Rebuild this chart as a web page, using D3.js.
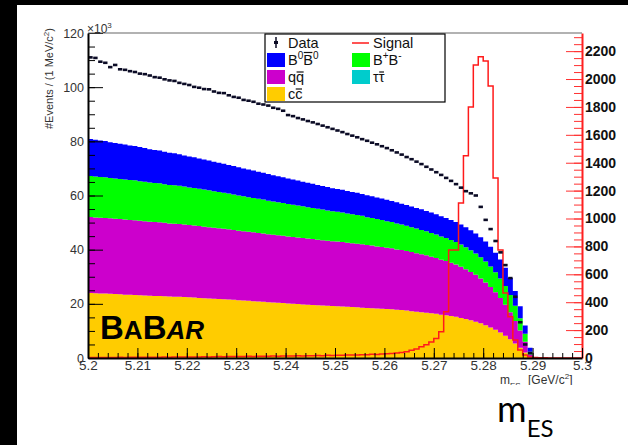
<!DOCTYPE html>
<html>
<head>
<meta charset="utf-8">
<script src="https://cdn.jsdelivr.net/npm/d3@7"></script>
<style>
body { margin: 0; background: #000; }
text { font-family: "Liberation Sans", Arial, sans-serif; }
</style>
</head>
<body>
<div id="chart"></div>
<script>
// page size
var svgWidth = 628;
var svgHeight = 445;

// plot frame (pixel box of the ROOT pad)
var frame = { left: 88, right: 582, top: 33, bottom: 358 };

// histogram binning: 1 MeV bins starting at 5.2 GeV
var xStart = 5.2;
var binWidth = 0.001;

// background components, events per bin (x1000), bins 5.200 ... 5.289
var ccbar = [
  24.0,23.9,23.8,23.8,23.7,23.6,23.5,23.4,23.4,23.3,
  23.2,23.1,23.0,22.9,22.9,22.8,22.7,22.6,22.6,22.5,
  22.4,22.3,22.2,22.1,22.0,21.9,21.8,21.7,21.6,21.5,
  21.3,21.2,21.1,21.0,20.9,20.8,20.6,20.5,20.4,20.3,
  20.1,20.0,19.9,19.8,19.7,19.6,19.5,19.4,19.3,19.2,
  19.1,19.0,18.9,18.8,18.7,18.6,18.5,18.4,18.3,18.2,
  18.1,18.0,17.8,17.7,17.5,17.3,17.1,16.9,16.7,16.5,
  16.3,16.0,15.8,15.5,15.2,14.8,14.4,13.9,13.4,12.8,
  12.1,11.3,10.4,9.4,8.2,6.9,5.4,3.8,2.0,0.5
];
var qqbar = [
  28.1,28.0,28.0,27.9,27.9,27.8,27.8,27.7,27.6,27.6,
  27.5,27.4,27.3,27.3,27.2,27.1,27.0,27.0,26.9,26.8,
  26.7,26.6,26.5,26.4,26.3,26.2,26.1,26.0,25.9,25.8,
  25.7,25.6,25.5,25.4,25.3,25.2,25.1,25.0,24.9,24.8,
  24.8,24.7,24.6,24.5,24.4,24.3,24.2,24.1,24.0,23.9,
  23.9,23.8,23.7,23.6,23.5,23.4,23.2,23.1,22.9,22.8,
  22.6,22.5,22.3,22.2,22.0,21.8,21.6,21.4,21.2,20.9,
  20.6,20.3,20.0,19.7,19.3,18.9,18.4,17.9,17.3,16.6,
  15.8,14.9,13.9,12.8,11.5,10.0,8.3,6.4,4.0,0.8
];
var bpbm = [
  15.1,15.1,15.0,15.0,14.9,14.9,14.8,14.8,14.7,14.7,
  14.6,14.6,14.5,14.4,14.4,14.3,14.2,14.2,14.1,14.0,
  13.9,13.9,13.8,13.7,13.6,13.5,13.4,13.3,13.2,13.1,
  13.0,12.9,12.8,12.7,12.6,12.5,12.4,12.3,12.2,12.1,
  12.0,11.9,11.8,11.7,11.6,11.5,11.4,11.3,11.2,11.1,
  11.0,10.9,10.8,10.7,10.6,10.5,10.3,10.2,10.1,10.0,
  9.8,9.7,9.6,9.4,9.3,9.2,9.1,9.0,8.9,8.8,
  8.7,8.6,8.5,8.4,8.3,8.2,8.1,8.0,7.9,7.8,
  7.7,7.6,7.4,7.2,6.9,6.4,5.6,4.5,3.0,1.0
];
var b0b0bar = [
  13.7,13.6,13.5,13.4,13.2,13.1,13.0,12.9,12.8,12.7,
  12.6,12.4,12.3,12.2,12.1,12.0,11.9,11.8,11.6,11.5,
  11.4,11.3,11.2,11.1,11.0,10.9,10.8,10.7,10.6,10.5,
  10.4,10.3,10.2,10.1,10.0,9.9,9.8,9.7,9.6,9.5,
  9.4,9.3,9.2,9.1,9.0,8.9,8.8,8.7,8.6,8.5,
  8.4,8.4,8.3,8.2,8.2,8.1,8.1,8.0,8.0,7.9,
  7.9,7.8,7.8,7.7,7.7,7.6,7.6,7.6,7.5,7.5,
  7.5,7.4,7.4,7.4,7.4,7.4,7.4,7.4,7.4,7.4,
  7.4,7.3,7.2,7.0,6.7,6.2,5.4,4.4,3.0,1.5
];

// data, events per bin (x1000)
var dataCounts = [
  111.0,110.8,109.4,109.0,107.4,108.2,106.6,106.4,105.9,105.6,
  105.0,104.8,104.3,103.7,103.5,102.9,102.5,102.3,101.6,101.2,
  100.8,100.1,99.8,99.3,99.2,98.4,97.9,97.8,97.0,96.4,
  96.1,95.3,95.0,94.6,93.9,93.6,93.2,92.4,92.0,91.3,
  89.7,89.3,88.6,88.1,87.5,87.0,86.4,85.8,85.2,84.6,
  84.0,83.4,82.7,82.1,81.5,80.8,80.2,79.5,78.9,78.2,
  77.5,76.7,75.9,75.1,74.2,73.4,72.5,71.6,70.6,69.6,
  68.6,67.6,66.5,65.4,64.2,62.9,61.6,60.8,60.0,55.8,
  51.0,47.6,43.2,39.0,34.3,29.5,22.6,13.2,5.0,1.8
];

// signal MC, events per bin (right axis), bins 5.200 ... 5.299
var signal = [
  3,3,4,3,4,4,5,4,5,5,
  5,6,5,6,6,7,6,7,7,8,
  8,7,8,9,8,9,10,9,10,11,
  10,11,12,11,12,13,12,14,13,14,
  15,14,16,15,17,16,18,17,19,18,
  20,19,21,22,21,23,24,26,25,28,
  30,32,35,40,45,55,65,80,95,115,
  140,188,332,774,774,1111,1450,1800,2100,2160,
  2130,1950,1290,774,466,296,129,57,21,8,
  4,2,1,0,0,0,0,0,0,0
];

var leftTicks = [0, 20, 40, 60, 80, 100, 120];
var rightTicks = [0, 200, 400, 600, 800, 1000, 1200, 1400, 1600, 1800, 2000, 2200];
var xTicks = [5.2, 5.21, 5.22, 5.23, 5.24, 5.25, 5.26, 5.27, 5.28, 5.29, 5.3];

var svg = d3.select("#chart")
  .append("svg")
  .attr("width", svgWidth)
  .attr("height", svgHeight)
  .style("display", "block");

// black border strips of the slide, white page
svg.append("rect").attr("width", svgWidth).attr("height", svgHeight).attr("fill", "#000");
svg.append("rect").attr("x", 17).attr("y", 5).attr("width", svgWidth - 17).attr("height", svgHeight - 5).attr("fill", "#fff");

// scales
var x = d3.scaleLinear().domain([5.2, 5.3]).range([frame.left, frame.right]);
var yLeft = d3.scaleLinear().domain([0, 120]).range([frame.bottom, frame.top]);
var yRight = d3.scaleLinear().domain([0, 2330]).range([frame.bottom, frame.top]);

svg.append("clipPath").attr("id", "plotclip")
  .append("rect")
  .attr("x", frame.left).attr("y", frame.top)
  .attr("width", frame.right - frame.left).attr("height", frame.bottom - frame.top);

// stacked background
var rows = ccbar.map(function(d, i) {
  return { lo: xStart + i * binWidth, cc: ccbar[i], qq: qqbar[i], bpbm: bpbm[i], b0b0: b0b0bar[i] };
});
rows.push({ lo: xStart + ccbar.length * binWidth, cc: 0, qq: 0, bpbm: 0, b0b0: 0 });

var keys = ["cc", "qq", "bpbm", "b0b0"];
var colors = { cc: "#ffcc00", qq: "#cc00cc", bpbm: "#00ff00", b0b0: "#0000ff" };
var stacked = d3.stack().keys(keys)(rows);

var area = d3.area()
  .curve(d3.curveStepAfter)
  .x(function(d) { return x(d.data.lo); })
  .y0(function(d) { return yLeft(d[0]); })
  .y1(function(d) { return yLeft(d[1]); });

svg.append("g").attr("clip-path", "url(#plotclip)")
  .selectAll("path")
  .data(stacked)
  .enter()
  .append("path")
  .attr("d", area)
  .attr("fill", function(d) { return colors[d.key]; });

// signal histogram outline
var sigRows = signal.map(function(v, i) { return { lo: xStart + i * binWidth, v: v }; });
sigRows.push({ lo: 5.3, v: signal[signal.length - 1] });

var sigLine = d3.line()
  .curve(d3.curveStepAfter)
  .x(function(d) { return x(d.lo); })
  .y(function(d) { return yRight(d.v); });

svg.append("path")
  .datum(sigRows)
  .attr("clip-path", "url(#plotclip)")
  .attr("d", sigLine)
  .attr("fill", "none")
  .attr("stroke", "#ff1a1a")
  .attr("stroke-width", 1.5);

// data markers
svg.append("g")
  .selectAll("rect")
  .data(dataCounts)
  .enter()
  .append("rect")
  .attr("x", function(d, i) { return x(xStart + (i + 0.5) * binWidth) - 2.2; })
  .attr("y", function(d) { return yLeft(d) - 1.3; })
  .attr("width", 4.4)
  .attr("height", 2.6)
  .attr("fill", "#0b0b25");

// axes
var minorLeft = d3.range(0, 121, 5);
var minorRight = d3.range(0, 2330, 50);
var minorX = d3.range(0, 51).map(function(i) { return 5.2 + i * 0.002; });

var gLeftMinor = svg.append("g")
  .attr("transform", "translate(" + frame.left + ",0)")
  .call(d3.axisLeft(yLeft).tickValues(minorLeft).tickSizeInner(-7).tickSizeOuter(0).tickFormat(""));
var gLeft = svg.append("g")
  .attr("transform", "translate(" + frame.left + ",0)")
  .call(d3.axisLeft(yLeft).tickValues(leftTicks).tickSizeInner(-15).tickSizeOuter(0).tickPadding(4));
gLeft.selectAll("text").attr("font-size", "12.5px").attr("fill", "#333").attr("font-family", null);

var gRightMinor = svg.append("g")
  .attr("transform", "translate(" + frame.right + ",0)")
  .call(d3.axisRight(yRight).tickValues(minorRight).tickSizeInner(-8).tickSizeOuter(0).tickFormat(""));
var gRight = svg.append("g")
  .attr("transform", "translate(" + frame.right + ",0)")
  .call(d3.axisRight(yRight).tickValues(rightTicks).tickSizeInner(-16).tickSizeOuter(0).tickPadding(3)
    .tickFormat(d3.format("d")));
gRight.selectAll("text").attr("font-size", "14px").attr("font-weight", "bold").attr("fill", "#111").attr("font-family", null);
gRightMinor.selectAll("line").attr("stroke", "#ff3030");
gRight.selectAll("line").attr("stroke", "#ff3030");
gRightMinor.select(".domain").remove();
gRight.select(".domain").attr("stroke", "#ff2020").attr("stroke-width", 2);

var gXMinor = svg.append("g")
  .attr("transform", "translate(0," + frame.bottom + ")")
  .call(d3.axisBottom(x).tickValues(minorX).tickSizeInner(-5).tickSizeOuter(0).tickFormat(""));
var gX = svg.append("g")
  .attr("transform", "translate(0," + frame.bottom + ")")
  .call(d3.axisBottom(x).tickValues(xTicks).tickSizeInner(-10).tickSizeOuter(0).tickPadding(2)
    .tickFormat(function(d) { return String(+d.toFixed(2)); }));
gX.selectAll("text").attr("font-size", "13.5px").attr("fill", "#333").attr("font-family", null);
gX.select(".domain").attr("stroke-width", 2);
gLeft.select(".domain").attr("stroke-width", 2);
gLeftMinor.select(".domain").remove();
gXMinor.select(".domain").remove();

// top frame line
svg.append("line")
  .attr("x1", frame.left).attr("x2", frame.right)
  .attr("y1", frame.top).attr("y2", frame.top)
  .attr("stroke", "#666").attr("stroke-width", 1.2);

// x10^3 and axis titles
svg.append("text").attr("x", 87).attr("y", 33).attr("font-size", "12px").attr("fill", "#333")
  .text("\u00d710").append("tspan").attr("dy", -5).attr("font-size", "8px").text("3");

var yTitle = svg.append("text")
  .attr("transform", "translate(53,28) rotate(-90)")
  .attr("text-anchor", "end")
  .attr("font-size", "11px")
  .attr("fill", "#333")
  .text("#Events / (1 MeV/c");
yTitle.append("tspan").attr("dy", -4).attr("font-size", "8px").text("2");
yTitle.append("tspan").attr("dy", 4).text(")");

svg.append("clipPath").attr("id", "titleclip")
  .append("rect").attr("x", 400).attr("y", 360).attr("width", 228).attr("height", 25);
var xTitle = svg.append("text")
  .attr("clip-path", "url(#titleclip)")
  .attr("x", 500).attr("y", 384)
  .attr("font-size", "12px")
  .attr("fill", "#333");
xTitle.append("tspan").text("m");
xTitle.append("tspan").attr("dy", 4).attr("font-size", "8px").text("ES");
xTitle.append("tspan").attr("x", 528).attr("dy", -4).text("[GeV/c");
xTitle.append("tspan").attr("dy", -5).attr("font-size", "8px").text("2");
xTitle.append("tspan").attr("dy", 5).text("]");

// legend
var legendBox = { x: 265, y: 34, w: 180, h: 68 };
svg.append("rect")
  .attr("x", legendBox.x).attr("y", legendBox.y)
  .attr("width", legendBox.w).attr("height", legendBox.h)
  .attr("fill", "#fff").attr("stroke", "#000").attr("stroke-width", 1.2);

var legendItems = [
  { kind: "data", col: 0, row: 0 },
  { kind: "line", col: 1, row: 0, color: "#ff1a1a" },
  { kind: "box", col: 0, row: 1, color: colors.b0b0 },
  { kind: "box", col: 1, row: 1, color: colors.bpbm },
  { kind: "box", col: 0, row: 2, color: colors.qq },
  { kind: "box", col: 1, row: 2, color: "#00cccc" },
  { kind: "box", col: 0, row: 3, color: colors.cc }
];
var colX = [267, 352];
var rowY = [36, 53, 70, 87];

legendItems.forEach(function(it) {
  var x0 = colX[it.col], y0 = rowY[it.row];
  if (it.kind === "box") {
    svg.append("rect").attr("x", x0).attr("y", y0).attr("width", 18).attr("height", 14).attr("fill", it.color);
  } else if (it.kind === "line") {
    svg.append("line").attr("x1", x0).attr("x2", x0 + 17).attr("y1", y0 + 7).attr("y2", y0 + 7)
      .attr("stroke", it.color).attr("stroke-width", 1.5);
  } else {
    svg.append("line").attr("x1", x0 + 9).attr("x2", x0 + 9).attr("y1", y0 + 1).attr("y2", y0 + 12)
      .attr("stroke", "#0b0b25").attr("stroke-width", 1.5);
    svg.append("rect").attr("x", x0 + 7).attr("y", y0 + 5).attr("width", 4).attr("height", 3).attr("fill", "#0b0b25");
  }
});

function legendText(x0, y0) {
  return svg.append("text").attr("x", x0 + 21).attr("y", y0 + 12).attr("font-size", "14.5px").attr("fill", "#111");
}
// draw a bar over character index ci of a text node
function overbar(t, ci, yTop) {
  var node = t.node();
  var a = node.getStartPositionOfChar(ci).x;
  var b = node.getEndPositionOfChar(ci).x;
  svg.append("line").attr("x1", a + 0.5).attr("x2", b - 0.5).attr("y1", yTop).attr("y2", yTop)
    .attr("stroke", "#111").attr("stroke-width", 1.2);
}
legendText(colX[0], rowY[0]).text("Data");
legendText(colX[1], rowY[0]).text("Signal");
var t1 = legendText(colX[0], rowY[1]);
t1.append("tspan").text("B");
t1.append("tspan").attr("dy", -6).attr("font-size", "10px").text("0");
t1.append("tspan").attr("dy", 6).text("B");
t1.append("tspan").attr("dy", -6).attr("font-size", "10px").text("0");
overbar(t1, 2, rowY[1] - 0.5);
var t2 = legendText(colX[1], rowY[1]);
t2.append("tspan").text("B");
t2.append("tspan").attr("dy", -6).attr("font-size", "10px").text("+");
t2.append("tspan").attr("dy", 6).text("B");
t2.append("tspan").attr("dy", -6).attr("font-size", "10px").text("-");
var t3 = legendText(colX[0], rowY[2]);
t3.text("qq");
overbar(t3, 1, rowY[2] + 2);
var t4 = legendText(colX[1], rowY[2]);
t4.text("\u03c4\u03c4");
overbar(t4, 1, rowY[2] + 2);
var t5 = legendText(colX[0], rowY[3]);
t5.text("cc");
overbar(t5, 1, rowY[3] + 2);

// BaBar logo text
var logo = svg.append("text").attr("x", 100).attr("y", 339).attr("font-weight", "bold").attr("fill", "#000");
logo.append("tspan").attr("font-size", "33px").text("B");
logo.append("tspan").attr("font-size", "26px").text("A");
logo.append("tspan").attr("font-size", "33px").text("B");
logo.append("tspan").attr("font-size", "26px").attr("font-style", "italic").text("AR");

// slide label
var mes = svg.append("text").attr("x", 497).attr("y", 422).attr("fill", "#000").style("font-family", "Lato, 'Open Sans', sans-serif");
mes.append("tspan").attr("font-size", "36px").text("m");
mes.append("tspan").attr("dy", 15).attr("font-size", "24px").text("ES");
</script>
</body>
</html>
